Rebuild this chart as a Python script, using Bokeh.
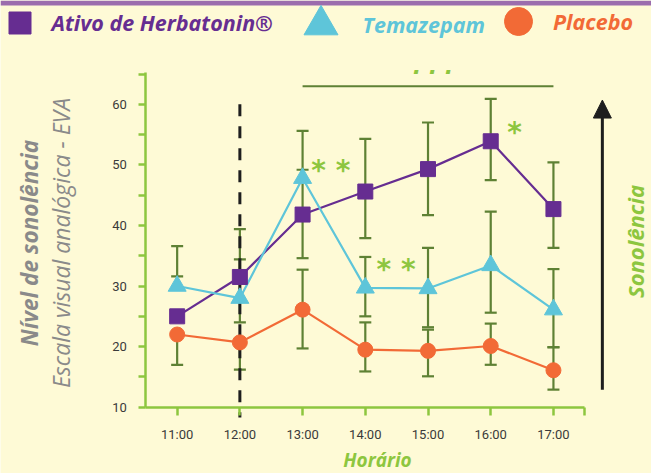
import numpy as np
from bokeh.plotting import figure
from bokeh.models import (ColumnDataSource, Whisker, TeeHead, FixedTicker, Label, Arrow,
                          NormalHead, Legend, LegendItem, BoxAnnotation)
from bokeh.core.properties import value
from bokeh.embed import file_html
from bokeh.resources import INLINE

# ---------------- data ----------------
hours = [11, 12, 13, 14, 15, 16, 17]
hour_labels = ["11:00", "12:00", "13:00", "14:00", "15:00", "16:00", "17:00"]

herb = [25.0, 31.5, 41.8, 45.6, 49.3, 53.9, 42.7]
herb_lo = [25.0, 31.5, 34.6, 37.9, 41.7, 47.5, 36.3]
herb_hi = [25.0, 39.4, 49.2, 54.3, 57.0, 60.9, 50.4]

tema = [30.0, 28.0, 47.8, 29.7, 29.6, 33.4, 26.1]
tema_lo = [31.6, 24.0, 47.3, 25.0, 23.2, 25.6, 19.9]
tema_hi = [36.6, 34.4, 55.6, 34.8, 36.3, 42.3, 32.8]

plac = [22.0, 20.7, 26.1, 19.5, 19.3, 20.1, 16.1]
plac_lo = [17.0, 16.2, 19.7, 15.9, 15.1, 17.0, 12.9]
plac_hi = [22.0, 20.7, 32.7, 24.0, 22.8, 23.8, 19.9]

x_bounds = (10.5, 17.5)
y_bounds = (10, 65.2)
y_major = [10, 20, 30, 40, 50, 60]
y_minor = [15, 25, 35, 45, 55, 65]
x_minor = [17.5]

sig_x = [13.45, 14.49, 16.38]
sig_y = [50.0, 33.8, 56.3]
sig_text = ["* *", "* *", "*"]
sig_bar_x0, sig_bar_x1, sig_bar_y = [13], [17], [63.0]

dose_time = 12
dose_top, dose_bottom = 60.0, 8.3
arrow_x, arrow_y0, arrow_y1 = 17.78, 12.9, 60.7

series_names = ["Ativo de Herbatonin®", "Temazepam", "Placebo"]
x_title = "Horário"
y_title = "Nível de sonolência"
y_subtitle = "Escala visual analógica - EVA"
arrow_title = "Sonolência"

# ---------------- style ----------------
W, H = 651, 473
BG = "#fefad6"
PURPLE = "#662d91"
CYAN = "#5ec5d9"
ORANGE = "#f26a36"
GREEN = "#8dc63f"
ERR = "#5e8134"
GRAY = "#8a8a8a"
DARK = "#1e1e1e"
FONT = "Open Sans"

# pixel placement of the axis box inside the canvas
AX_L, AX_R, AX_B, AX_T = 145.3, 584.3, 406.7, 72.3
sx = (AX_R - AX_L) / (x_bounds[1] - x_bounds[0])
sy = (AX_B - AX_T) / (y_bounds[1] - y_bounds[0])
x_range = (x_bounds[0] - AX_L / sx, x_bounds[1] + (W - AX_R) / sx)
y_range = (y_bounds[0] - (H - AX_B) / sy, y_bounds[1] + AX_T / sy)

p = figure(width=W, height=H, x_range=x_range, y_range=y_range,
           output_backend="svg", toolbar_location=None,
           min_border=0, background_fill_color=BG, border_fill_color=BG, outline_line_color=None)
p.grid.visible = False

# axes drawn at fixed data locations, limited to the axis box
xa = p.xaxis[0]
xa.fixed_location = y_bounds[0]
xa.bounds = x_bounds
xa.ticker = FixedTicker(ticks=hours, minor_ticks=x_minor)
xa.major_label_overrides = {h: l for h, l in zip(hours, hour_labels)}
ya = p.yaxis[0]
ya.fixed_location = x_bounds[0]
ya.bounds = y_bounds
ya.ticker = FixedTicker(ticks=y_major, minor_ticks=y_minor)
for ax in (xa, ya):
    ax.axis_line_color = GREEN
    ax.axis_line_width = 2.5
    ax.major_tick_line_color = GREEN
    ax.major_tick_line_width = 2.5
    ax.minor_tick_line_color = GREEN
    ax.minor_tick_line_width = 2.5
    ax.major_tick_in = 0
    ax.minor_tick_in = 0
    ax.major_label_text_font = "Roboto"
    ax.major_label_text_font_size = "13px"
    ax.major_label_text_color = "#3a3a3a"
xa.major_tick_out = 8
xa.minor_tick_out = 8
ya.major_tick_out = 7
ya.minor_tick_out = 7
xa.major_label_standoff = 12
ya.major_label_standoff = 12

# top purple strip
p.add_layout(BoxAnnotation(left=0, right=W, bottom=H - 5, top=H, left_units="screen", right_units="screen",
                           bottom_units="screen", top_units="screen", fill_color="#9b6dad", fill_alpha=1,
                           line_color=None, level="underlay"))

# data sources
srcs = []
for vals, lo, hi in ((herb, herb_lo, herb_hi), (tema, tema_lo, tema_hi), (plac, plac_lo, plac_hi)):
    srcs.append(ColumnDataSource(dict(x=hours, y=vals, lo=lo, hi=hi)))

# error bars (under everything)
for s in srcs:
    w = Whisker(base="x", lower="lo", upper="hi", source=s, level="underlay",
                line_color=ERR, line_width=2.2,
                upper_head=TeeHead(size=12, line_color=ERR, line_width=2.2),
                lower_head=TeeHead(size=12, line_color=ERR, line_width=2.2))
    p.add_layout(w)

# dose time dashed line
p.add_layout(Arrow(end=None, x_start=dose_time, y_start=dose_top, x_end=dose_time, y_end=dose_bottom,
                   line_dash="12 10", line_width=3, line_color=DARK, level="underlay"))

# significance bar
p.segment(x0=sig_bar_x0, y0=sig_bar_y, x1=sig_bar_x1, y1=sig_bar_y, line_color=ERR, line_width=2)

# series
colors = [PURPLE, CYAN, ORANGE]
markers = ["square", "triangle", "circle"]
sizes = [15, 18, 15]
scat = []
for s, c in zip(srcs, colors):
    p.line("x", "y", source=s, line_color=c, line_width=2.2)
for s, c, m, sz in zip(srcs, colors, markers, sizes):
    scat.append(p.scatter("x", "y", source=s, marker=m, size=sz, fill_color=c, line_color=c))

# significance asterisks
p.text(x=sig_x, y=sig_y, text=sig_text, text_font=value("DejaVu Sans"), text_font_style="bold italic",
       text_font_size="28px", text_color=GREEN, text_align="center", text_baseline="middle", y_offset=6)
p.add_layout(Label(x=15.08, y=66.2, text=". . .", text_font="DejaVu Sans", text_font_style="bold italic",
                   text_font_size="22px", text_color=GREEN, text_align="center", text_baseline="alphabetic"))

# legends (one per series, each in its colour)
leg_specs = [
    (0, (-8.5, 423.5), 55, 5),
    (1, (277.5, 406.1), 85, -12),
    (2, (483.0, 417.0), 70, -2),
]
for i, loc, gsz, stand in leg_specs:
    leg = Legend(items=[LegendItem(label=series_names[i], renderers=[scat[i]])], location=loc,
                 glyph_width=gsz, glyph_height=gsz, label_standoff=stand, padding=0, margin=0, spacing=0,
                 border_line_color=None, background_fill_alpha=0, label_text_color=colors[i],
                 label_text_font=FONT, label_text_font_style="bold italic", label_text_font_size="21.5px")
    p.add_layout(leg)

# axis titles
p.add_layout(Label(x=377, y=H - 459, x_units="screen", y_units="screen", text=x_title,
                   text_align="center", text_baseline="middle", text_font=FONT,
                   text_font_style="bold italic", text_font_size="19px", text_color=GREEN))
p.add_layout(Label(x=29, y=H - 242.5, x_units="screen", y_units="screen", text=y_title,
                   angle=np.pi / 2, text_align="center", text_baseline="middle", text_font=FONT,
                   text_font_style="bold italic", text_font_size="22.5px", text_color=GRAY))
p.add_layout(Label(x=60, y=H - 242.5, x_units="screen", y_units="screen", text=y_subtitle,
                   angle=np.pi / 2, text_align="center", text_baseline="middle", text_font=FONT,
                   text_font_style="italic", text_font_size="23px", text_color=GRAY))

# sonolência arrow
p.add_layout(Arrow(end=NormalHead(size=18, fill_color=DARK, line_color=DARK), x_start=arrow_x,
                   y_start=arrow_y0, x_end=arrow_x, y_end=arrow_y1, line_width=3, line_color=DARK))
p.add_layout(Label(x=634, y=H - 241, x_units="screen", y_units="screen", text=arrow_title,
                   angle=np.pi / 2, text_align="center", text_baseline="middle", text_font=FONT,
                   text_font_style="bold italic", text_font_size="22px", text_color=GREEN))

open("out.html", "w").write(file_html(p, INLINE))
